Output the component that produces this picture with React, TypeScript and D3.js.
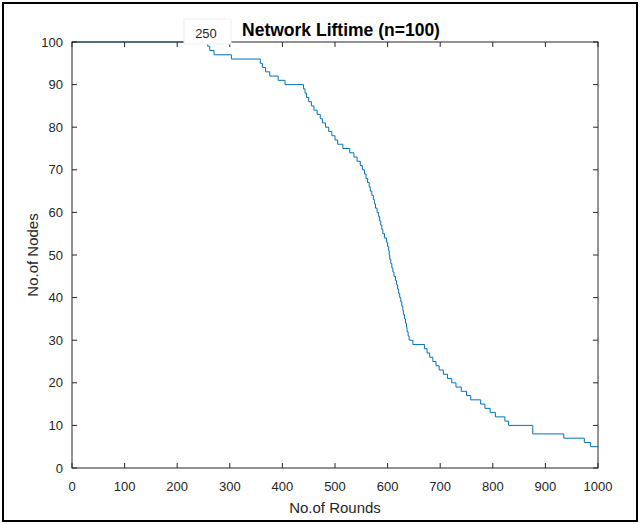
import React from "react";
import * as d3 from "d3";

const rounds = [0, 258, 262, 270, 303, 358, 362, 368, 376, 392, 405, 440, 443, 446, 450, 455, 460, 466, 472, 476, 482, 488, 494, 500, 505, 515, 528, 536, 542, 548, 552, 556, 559, 562, 565, 567, 570, 573, 575, 577, 580, 583, 585, 587, 589, 591, 594, 598, 600, 602, 603, 604, 606, 608, 610, 612, 615, 617, 619, 621, 623, 625, 627, 629, 630, 632, 634, 636, 637, 639, 641, 648, 670, 675, 680, 686, 692, 698, 706, 714, 722, 730, 740, 750, 758, 777, 785, 795, 805, 823, 830, 876, 935, 974, 986, 1000];
const alive = [100, 99, 98, 97, 96, 95, 94, 93, 92, 91, 90, 89, 88, 87, 86, 85, 84, 83, 82, 81, 80, 79, 78, 77, 76, 75, 74, 73, 72, 71, 70, 69, 68, 67, 66, 65, 64, 63, 62, 61, 60, 59, 58, 57, 56, 55, 54, 53, 52, 51, 50, 49, 48, 47, 46, 45, 44, 43, 42, 41, 40, 39, 38, 37, 36, 35, 34, 33, 32, 31, 30, 29, 28, 27, 26, 25, 24, 23, 22, 21, 20, 19, 18, 17, 16, 15, 14, 13, 12, 11, 10, 8, 7, 6, 5, 5];
const xTicks = [0, 100, 200, 300, 400, 500, 600, 700, 800, 900, 1000];
const yTicks = [0, 10, 20, 30, 40, 50, 60, 70, 80, 90, 100];
const title = "Network Liftime (n=100)";
const xLabel = "No.of Rounds";
const yLabel = "No.of Nodes";
const dataTip = "250";

export default function App() {
  const W = 640, H = 524;
  const L = 72, R = 598, T = 42, B = 468;
  const x = d3.scaleLinear().domain([0, 1000]).range([L, R]);
  const y = d3.scaleLinear().domain([0, 100]).range([B, T]);
  const pts: [number, number][] = rounds.map((r, i) => [r, alive[i]]);
  const line = d3.line<[number, number]>().x(d => x(d[0])).y(d => y(d[1])).curve(d3.curveStepAfter);
  const axisColor = "#262626";
  const font = "'Liberation Sans', Arial, sans-serif";
  const tl = 5;
  return (
    <svg width={W} height={H} style={{ position: "absolute", left: 0, top: 0, display: "block", background: "#fff" }} fontFamily={font}>
      <rect x={0} y={0} width={W} height={H} fill="#fff" />
      <rect x={3} y={3} width={634} height={518} fill="none" stroke="#000" strokeWidth={2} />
      <path d={line(pts) || ""} fill="none" stroke="#0072BD" strokeWidth={1} />
      <rect x={L} y={T} width={R - L} height={B - T} fill="none" stroke={axisColor} strokeWidth={1} />
      {xTicks.map(t => (
        <g key={"x" + t}>
          <line x1={x(t)} x2={x(t)} y1={B} y2={B - tl} stroke={axisColor} />
          <line x1={x(t)} x2={x(t)} y1={T} y2={T + tl} stroke={axisColor} />
          <text x={x(t)} y={B + 23} textAnchor="middle" fontSize={13} fill={axisColor}>{t}</text>
        </g>
      ))}
      {yTicks.map(t => (
        <g key={"y" + t}>
          <line x1={L} x2={L + tl} y1={y(t)} y2={y(t)} stroke={axisColor} />
          <line x1={R} x2={R - tl} y1={y(t)} y2={y(t)} stroke={axisColor} />
          <text x={L - 9} y={y(t) + 4.5} textAnchor="end" fontSize={13} fill={axisColor}>{t}</text>
        </g>
      ))}
      <text x={(L + R) / 2} y={B + 45} textAnchor="middle" fontSize={15} fill={axisColor}>{xLabel}</text>
      <text transform={`translate(38,${(T + B) / 2}) rotate(-90)`} textAnchor="middle" fontSize={15} fill={axisColor}>{yLabel}</text>
      <text x={341} y={36} textAnchor="middle" fontSize={17.5} fontWeight="bold" fill="#000">{title}</text>
      <rect x={184} y={19} width={47} height={25} fill="#fff" stroke="#eeeeee" strokeWidth={1} />
      <text x={206} y={38} textAnchor="middle" fontSize={13} fill={axisColor}>{dataTip}</text>
    </svg>
  );
}
